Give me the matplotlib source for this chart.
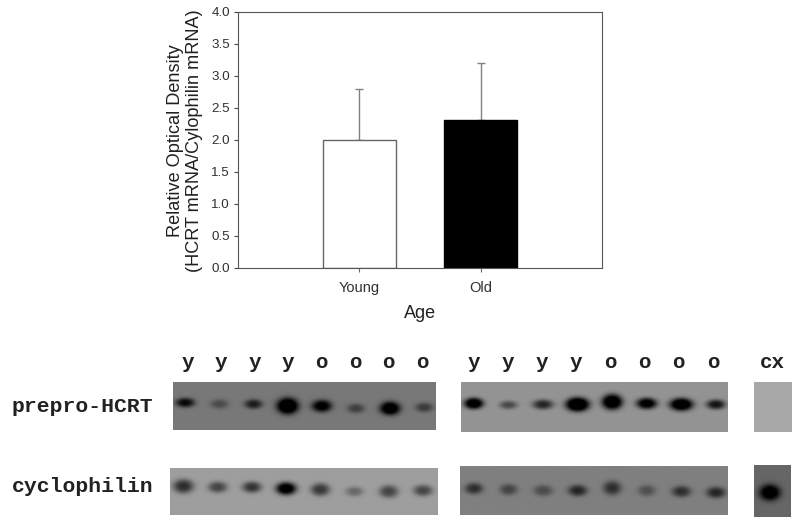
import numpy as np
import matplotlib
matplotlib.use("Agg")
import matplotlib.pyplot as plt

categories = ["Young", "Old"]
means = [2.0, 2.32]
errors = [0.80, 0.89]
y_ticks = [0.0, 0.5, 1.0, 1.5, 2.0, 2.5, 3.0, 3.5, 4.0]
lane_labels = ["y", "y", "y", "y", "o", "o", "o", "o"]

# Band darkness per lane (0 = no band, 1 = very dark), band widths, heights and vertical offset
hcrt_left = [0.55, 0.22, 0.45, 0.85, 0.65, 0.28, 0.75, 0.30]
hcrt_left_w = [14, 13, 13, 16, 15, 13, 15, 13]
hcrt_left_h = [7, 7, 7, 12, 9, 7, 10, 7]
hcrt_left_y = [0.43, 0.46, 0.46, 0.50, 0.50, 0.55, 0.55, 0.53]

cyc_left = [0.42, 0.33, 0.40, 0.70, 0.38, 0.20, 0.33, 0.33]
cyc_left_w = [15, 14, 14, 15, 14, 13, 14, 14]
cyc_left_h = [10, 8, 8, 9, 9, 7, 9, 8]
cyc_left_y = [0.40, 0.42, 0.42, 0.45, 0.47, 0.51, 0.51, 0.49]

hcrt_right = [0.75, 0.30, 0.45, 0.88, 0.80, 0.68, 0.80, 0.52]
hcrt_right_w = [14, 13, 15, 17, 15, 15, 17, 14]
hcrt_right_h = [8, 6, 7, 10, 11, 8, 9, 7]
hcrt_right_y = [0.44, 0.47, 0.46, 0.46, 0.41, 0.44, 0.46, 0.46]

cyc_right = [0.38, 0.28, 0.24, 0.42, 0.38, 0.22, 0.38, 0.42]
cyc_right_w = [13, 13, 14, 14, 13, 13, 14, 14]
cyc_right_h = [8, 8, 8, 8, 10, 8, 8, 8]
cyc_right_y = [0.47, 0.49, 0.51, 0.51, 0.46, 0.51, 0.53, 0.55]

cx_top = [0.0]
cx_bottom = [0.75]
cx_bottom_w = [15]
cx_bottom_h = [12]
cx_bottom_y = [0.53]

W, H = 800, 522
plt.rcParams["font.family"] = ["Liberation Sans", "DejaVu Sans"]
fig = plt.figure(figsize=(W / 100, H / 100), dpi=100, facecolor="white")


def px_axes(x0, x1, y0, y1):
    return fig.add_axes([x0 / W, 1 - y1 / H, (x1 - x0) / W, (y1 - y0) / H])


# Bar chart
ax = px_axes(237.7, 602, 12, 268)
ax.bar([0], means[0], width=0.6, facecolor="white", edgecolor="#666666", linewidth=1.0, zorder=2)
ax.bar([1], means[1], width=0.6, facecolor="black", edgecolor="black", linewidth=1.0, zorder=2)
ax.errorbar([0, 1], means, yerr=[[0, 0], errors], fmt="none", ecolor="#808080",
            elinewidth=1.0, capsize=3.2, capthick=1.0, zorder=1)
ax.set_xlim(-1, 2)
ax.set_ylim(0, 4)
ax.set_xticks([0, 1], categories)
ax.set_yticks(y_ticks, [f"{v:.1f}" for v in y_ticks])
ax.tick_params(axis="y", direction="out", length=3, width=0.8, color="#444444",
               labelsize=9.6, labelcolor="#303030", pad=2.5)
ax.tick_params(axis="x", direction="out", length=3, width=0.8, color="#666666",
               labelsize=10.5, labelcolor="#303030", pad=6.5)
for s in ax.spines.values():
    s.set_linewidth(0.8)
    s.set_color("#555555")
fig.text(185 / W, 1 - 141 / H, "Relative Optical Density\n(HCRT mRNA/Cylophilin mRNA)",
         rotation=90, ha="center", va="center", fontsize=13.1, color="#202020", linespacing=1.18)
fig.text(420 / W, 1 - 314 / H, "Age", ha="center", va="center", fontsize=13, color="#202020")


def blot(box, background, dark, widths=None, heights=None, ys=None, xfrac=None):
    x0, x1, y0, y1 = box
    a = px_axes(x0, x1, y0, y1)
    nx, ny = int(round(x1 - x0)), int(round(y1 - y0))
    xx, yy = np.meshgrid(np.arange(nx) + 0.5, np.arange(ny) + 0.5)
    img = np.full((ny, nx), background, dtype=float)
    n = len(dark)
    for i, d in enumerate(dark):
        if d <= 0:
            continue
        cx = xfrac[i] * nx if xfrac is not None else (i + 0.5) / n * nx
        cy = ys[i] * ny
        r = ((xx - cx) / (widths[i] * 0.68)) ** 2 + ((yy - cy) / (heights[i] * 0.68)) ** 2
        img -= min(d * 1.7, 1.5) * background * np.exp(-(r ** 1.4))
    a.imshow(np.clip(img, 0, 1), cmap="gray", vmin=0, vmax=1, aspect="auto", interpolation="bilinear")
    a.set_axis_off()
    return a


def lane_xf(first, last, x0, x1):
    return [(first + (last - first) * i / 7 - x0) / (x1 - x0) for i in range(8)]


box_a = (172.7, 435.7, 382.3, 430)
box_b = (170, 438, 467.7, 515)
box_c = (460.7, 727, 381.7, 431.7)
box_d = (460, 727, 465.7, 515)
blot(box_a, 0.47, hcrt_left, hcrt_left_w, hcrt_left_h, hcrt_left_y, lane_xf(185, 424, 172.7, 435.7))
blot(box_b, 0.62, cyc_left, cyc_left_w, cyc_left_h, cyc_left_y, lane_xf(183.5, 423, 170, 438))
blot(box_c, 0.58, hcrt_right, hcrt_right_w, hcrt_right_h, hcrt_right_y, lane_xf(473.5, 715, 460.7, 727))
blot(box_d, 0.50, cyc_right, cyc_right_w, cyc_right_h, cyc_right_y, lane_xf(474, 715, 460, 727))
blot((754.3, 792, 382, 432), 0.66, cx_top)
blot((753.7, 790, 465, 517), 0.40, cx_bottom, cx_bottom_w, cx_bottom_h, cx_bottom_y, [0.43])

# Blot labels
mono = ["Liberation Mono", "DejaVu Sans Mono"]
fig.text(82 / W, 1 - 407 / H, "prepro-HCRT", family=mono, weight="bold", fontsize=15.4, ha="center", va="center", color="#222222")
fig.text(83 / W, 1 - 487 / H, "cyclophilin", family=mono, weight="bold", fontsize=15.4, ha="center", va="center", color="#222222")
for i, lab in enumerate(lane_labels):
    for first, last in ((187.5, 422), (473.5, 713)):
        x = first + (last - first) * i / 7
        fig.text(x / W, 1 - 362 / H, lab, family=mono, weight="bold", fontsize=15,
                 ha="center", va="center", color="#222222")
fig.text(772 / W, 1 - 362 / H, "cx", family=mono, weight="bold", fontsize=15, ha="center", va="center", color="#222222")

fig.savefig("out.png", dpi=100, facecolor="white")
